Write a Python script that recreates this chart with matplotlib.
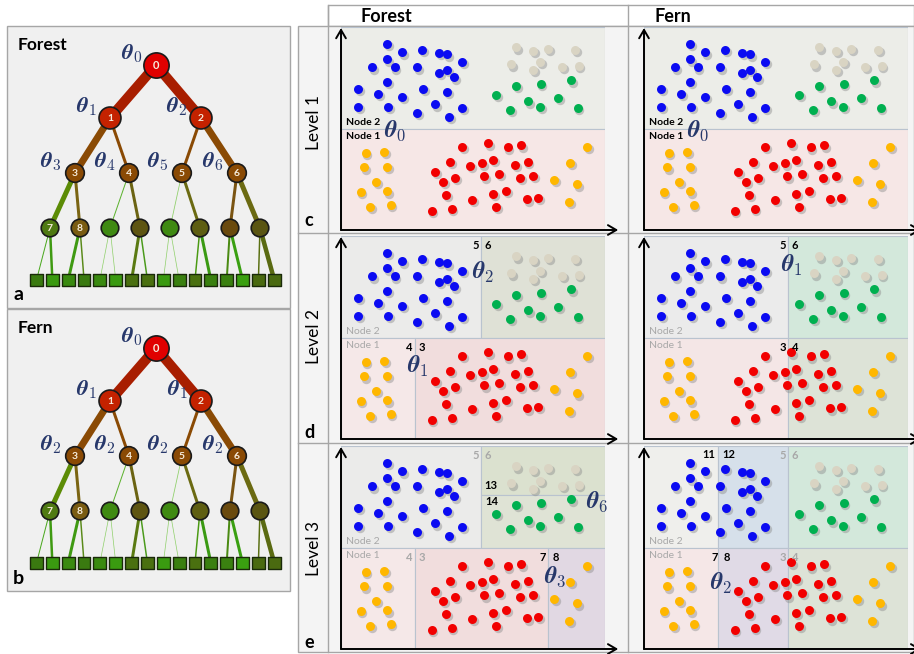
import matplotlib.pyplot as plt
from matplotlib.patches import Rectangle

plt.rcParams['font.family'] = ['Lato', 'DejaVu Sans']
plt.rcParams['mathtext.fontset'] = 'cm'

W, H = 914, 654

# point clouds in panel units (0-100), same cloud in every panel
blue_x = [17.5, 23.2, 30.6, 37.2, 40.2, 11.7, 17.5, 20.3, 28.8, 37.0, 40.2, 45.8, 42.9,
          17.5, 6.6, 13.9, 23.2, 31.1, 40.2, 6.6, 17.9, 28.8, 35.6, 40.8, 45.8]
blue_y = [91.5, 87.5, 88.7, 87.4, 86.5, 80.1, 84.1, 80.1, 80.1, 77.5, 79.0, 82.8, 75.2,
          72.9, 69.6, 67.2, 65.4, 69.6, 68.0, 60.8, 60.8, 57.8, 61.9, 55.8, 60.3]
beige_x = [66.2, 72.6, 78.5, 88.8, 64.3, 75.5, 72.6, 83.8, 90.0]
beige_y = [90.0, 88.3, 89.3, 88.7, 81.6, 82.9, 78.7, 80.3, 81.0]
green_x = [66.3, 75.6, 87.1, 58.6, 71.0, 82.1, 64.1, 75.4, 89.6]
green_y = [70.9, 71.9, 73.7, 66.7, 63.4, 64.9, 59.3, 60.8, 60.3]
yellow_x = [9.3, 16.2, 8.8, 17.4, 13.3, 7.4, 17.5, 11.1, 18.8, 93.3, 86.9, 80.7, 89.5, 86.5]
yellow_y = [37.9, 38.6, 30.9, 31.2, 23.6, 18.7, 19.0, 11.2, 12.5, 40.9, 33.2, 24.5, 22.5, 14.0]
red_x = [46.0, 55.7, 63.1, 68.3, 41.3, 48.9, 53.3, 57.7, 66.0, 70.7, 35.6, 43.3, 54.3,
         60.0, 67.8, 72.9, 38.8, 39.8, 49.7, 57.7, 62.4, 70.6, 74.7, 34.3, 41.9, 58.7]
red_y = [41.0, 42.7, 40.7, 41.7, 33.5, 31.7, 32.8, 34.5, 32.2, 33.5, 28.7, 25.5, 26.4,
         27.6, 25.5, 26.8, 23.8, 17.4, 14.8, 17.7, 19.4, 15.1, 15.9, 9.5, 10.5, 11.2]

clouds = [(blue_x, blue_y, '#0b0bf2'), (beige_x, beige_y, '#d9d4c3'),
          (green_x, green_y, '#00b050'), (yellow_x, yellow_y, '#ffb700'),
          (red_x, red_y, '#f20000')]

# split thresholds, panel units
forest_theta = {0: 50, 1: 28, 2: 53, 3: 78.5, 6: 76}
fern_theta = {0: 50, 1: 54.5, 2: 28}

# tree edge widths (px) and colours, level by level
edge_w = [[10, 10], [7, 3, 3, 7], [5, 3, 1, 3, 0.8, 3, 3, 5],
          [1, 2.5, 3, 1.5, 0.7, 0.7, 3, 1.5, 0.7, 0.7, 1.5, 3, 2, 3, 1.5, 4.5]]
edge_c = [['#a81e00'] * 2, ['#8a4a04'] * 4,
          ['#5c8c06', '#7a6412', '#5cb22e', '#6b6312', '#8fd06a', '#6b6a12', '#7a5412', '#6b6a12'],
          ['#4aa81e', '#3f9a12', '#3f9a12', '#5a8a1a', '#8fd06a', '#8fd06a', '#5a7a12', '#4a9a1a',
           '#8fd06a', '#8fd06a', '#4a9a12', '#3a9a12', '#4a8a12', '#3aa012', '#5a7012', '#5a6a12']]
node_c = [['#e00000'], ['#c42200'] * 2, ['#8a4a04'] * 4,
          ['#4f7a12', '#7a5c12', '#3f8a12', '#5e5512', '#3f8a12', '#5e5e12', '#6a4a0e', '#5a5512']]
leaf_c = ['#3a7a10', '#3a9a10', '#3a8a10', '#3a7a10', '#3a8a10', '#3a9a10', '#4a7010', '#4a7010',
          '#3a9a10', '#3a8010', '#4a7010', '#3a8010', '#3a8010', '#3aa010', '#4a6a10', '#4a6a10']
forest_tree_theta = [0, 1, 2, 3, 4, 5, 6]
fern_tree_theta = [0, 1, 1, 2, 2, 2, 2]

THETA_C = '#27386b'
LINE_C = '#a6a6a6'


def px_axes(fig, x0, y0, x1, y1):
    return fig.add_axes([x0 / W, 1 - y1 / H, (x1 - x0) / W, (y1 - y0) / H])


def theta_str(k):
    return r'$\boldsymbol{\theta}_{%d}$' % k


fig = plt.figure(figsize=(W / 100, H / 100), dpi=100)
bg = px_axes(fig, 0, 0, W, H)
bg.set_xlim(0, W)
bg.set_ylim(H, 0)
bg.axis('off')

# table frame on the right
bg.add_patch(Rectangle((328, 5), W - 328, 21, facecolor='white', edgecolor=LINE_C, lw=1))
bg.add_patch(Rectangle((298, 26), W - 298, 626, facecolor='#f4f4f4', edgecolor=LINE_C, lw=1))
for x in [328, 628]:
    bg.plot([x, x], [5, 652], color=LINE_C, lw=1)
for y in [233, 443]:
    bg.plot([298, W], [y, y], color=LINE_C, lw=1)
bg.text(360, 16, 'Forest', fontsize=13, fontweight='bold', va='center')
bg.text(655, 16, 'Fern', fontsize=13, fontweight='bold', va='center')
for i, (yc, letter) in enumerate(zip([122, 337, 548], ['c', 'd', 'e'])):
    bg.text(314, yc, 'Level %d' % (i + 1), fontsize=12.5, rotation=90, ha='center', va='center')
    bg.text(304, [220, 432, 642][i], letter, fontsize=13, fontweight='bold', va='center')


def draw_tree(y0, title, letter, thetas):
    bg.add_patch(Rectangle((7, y0), 283, 282, facecolor='#f0f0f0', edgecolor=LINE_C, lw=1))
    bg.text(18, y0 + 19, title, fontsize=12.5, fontweight='bold', va='center')
    bg.text(13, y0 + 269, letter, fontsize=14, fontweight='bold', va='center')
    ys = [y0 + d for d in [39, 92, 147, 202, 254]]
    xs = [[156], [110, 201], [75, 129, 182, 237],
          [50 + 30 * k for k in range(8)], [36.5 + 15.85 * k for k in range(16)]]
    for lvl in range(4):
        for j, xc in enumerate(xs[lvl + 1]):
            xp = xs[lvl][j // 2]
            bg.plot([xp, xc], [ys[lvl], ys[lvl + 1]], color=edge_c[lvl][j],
                    lw=edge_w[lvl][j] * 0.72, solid_capstyle='butt', zorder=2)
    sizes = [330, 250, 180, 160]
    num = 0
    for lvl in range(4):
        bg.scatter(xs[lvl], [ys[lvl]] * len(xs[lvl]), s=sizes[lvl], c=node_c[lvl],
                   edgecolors='#1a1a1a', linewidths=1.2, zorder=3)
        for xc in xs[lvl]:
            if num <= 8:
                bg.text(xc, ys[lvl] + 0.5, str(num), color='#f6ecdc', fontsize=8 if num == 0 else 7.5,
                        fontweight='bold', ha='center', va='center', zorder=4)
            num += 1
    bg.scatter(xs[4], [ys[4]] * 16, s=85, marker='s', c=leaf_c,
               edgecolors='#1a2a0a', linewidths=1.0, zorder=3)
    k = 0
    for lvl in range(3):
        for xc in xs[lvl]:
            bg.text(xc - 24, ys[lvl] - 11, theta_str(thetas[k]), fontsize=16,
                    color=THETA_C, ha='center', va='center', zorder=5)
            k += 1


draw_tree(26, 'Forest', 'a', forest_tree_theta)
draw_tree(309, 'Fern', 'b', fern_tree_theta)


def regions(kind, level):
    if kind == 'Forest':
        t = forest_theta
        if level == 1:
            return [(0, t[0], 100, 100, '#ecede8'), (0, 0, 100, t[0], '#f6e7e6')]
        top = [(0, t[0], t[2], 100, '#ebebea')]
        bot = [(0, 0, t[1], t[0], '#f5e8e8')]
        if level == 2:
            top.append((t[2], t[0], 100, 100, '#dfe1d6'))
            bot.append((t[1], 0, 100, t[0], '#f1dddd'))
        else:
            top += [(t[2], t[6], 100, 100, '#dbe1cf'), (t[2], t[0], 100, t[6], '#dfe3d5')]
            bot += [(t[1], 0, t[3], t[0], '#f1dddd'), (t[3], 0, 100, t[0], '#e1d8e3')]
        return top + bot
    t = fern_theta
    if level == 1:
        return [(0, t[0], 100, 100, '#ecede8'), (0, 0, 100, t[0], '#f6e7e6')]
    if level == 2:
        return [(0, t[0], t[1], 100, '#ebebeb'), (t[1], t[0], 100, 100, '#d3e8db'),
                (0, 0, t[1], t[0], '#f4e6e6'), (t[1], 0, 100, t[0], '#dde3d7')]
    return [(0, t[0], t[2], 100, '#efefec'), (t[2], t[0], t[1], 100, '#d6e0ea'),
            (t[1], t[0], 100, 100, '#d3e8db'), (0, 0, t[2], t[0], '#f5e7e7'),
            (t[2], 0, t[1], t[0], '#e0dae6'), (t[1], 0, 100, t[0], '#dde3d7')]


def pair(ax, t, y, a, b, color):
    ax.text(t - 0.8, y, a, ha='right', va='center', fontsize=8, fontweight='bold', color=color)
    ax.text(t + 1.5, y, b, ha='left', va='center', fontsize=8, fontweight='bold', color=color)


def theta(ax, x, y, k):
    ax.text(x, y, theta_str(k), fontsize=17, color=THETA_C, ha='center', va='center')


GRAY = '#a8a8a8'
for kind, left in [('Forest', 341), ('Fern', 644)]:
    for level, top in zip([1, 2, 3], [27, 236, 446]):
        ax = px_axes(fig, left, top, left + 264, top + 203)
        ax.set_xlim(0, 100)
        ax.set_ylim(0, 100)
        ax.axis('off')
        for x0, y0, x1, y1, col in regions(kind, level):
            ax.add_patch(Rectangle((x0, y0), x1 - x0, y1 - y0, facecolor=col,
                                   edgecolor='#b9c3cf', lw=0.8, zorder=1))
        for xs, ys, col in clouds:
            ax.scatter([x + 0.7 for x in xs], [y - 1.1 for y in ys], s=46, color='#8c8c8c',
                       alpha=0.45, lw=0, zorder=2)
            ax.scatter(xs, ys, s=42, color=col, lw=0, zorder=3)
        arrow = dict(arrowstyle='->,head_length=0.6,head_width=0.35', lw=1.4, color='black',
                     shrinkA=0, shrinkB=0, clip_on=False)
        ax.annotate('', xy=(105, 0), xytext=(0, 0), arrowprops=arrow, annotation_clip=False)
        ax.annotate('', xy=(0, 99.5), xytext=(0, 0), arrowprops=arrow, annotation_clip=False)

        ncol = 'black' if level == 1 else GRAY
        ax.text(2, 53, 'Node 2', fontsize=7.5, fontweight='bold' if level == 1 else 'normal',
                color=ncol, va='center')
        ax.text(2, 46, 'Node 1', fontsize=7.5, fontweight='bold' if level == 1 else 'normal',
                color=ncol, va='center')
        if level == 1:
            theta(ax, 20.5, 49, 0)
            continue
        if kind == 'Forest':
            t = forest_theta
            c56 = 'black' if level == 2 else GRAY
            pair(ax, t[2], 95.5, '5', '6', c56)
            pair(ax, t[1], 45, '4', '3', c56)
            if level == 2:
                theta(ax, 54, 82, 2)
                theta(ax, 29, 35.5, 1)
            else:
                ax.text(t[2] + 1.2, 80.3, '13', fontsize=8, fontweight='bold', va='center')
                ax.text(t[2] + 1.5, 72.9, '14', fontsize=8, fontweight='bold', va='center')
                theta(ax, 97, 72.4, 6)
                pair(ax, t[3], 45, '7', '8', 'black')
                theta(ax, 81, 35.5, 3)
        else:
            t = fern_theta
            c56 = 'black' if level == 2 else GRAY
            pair(ax, t[1], 95.5, '5', '6', c56)
            pair(ax, t[1], 45, '3', '4', c56)
            if level == 2:
                theta(ax, 56, 85.7, 1)
            else:
                pair(ax, t[2], 96, '11', '12', 'black')
                pair(ax, t[2] + 0.6, 45, '7', '8', 'black')
                theta(ax, 29.2, 32.5, 2)

fig.savefig('out.png', dpi=100)
